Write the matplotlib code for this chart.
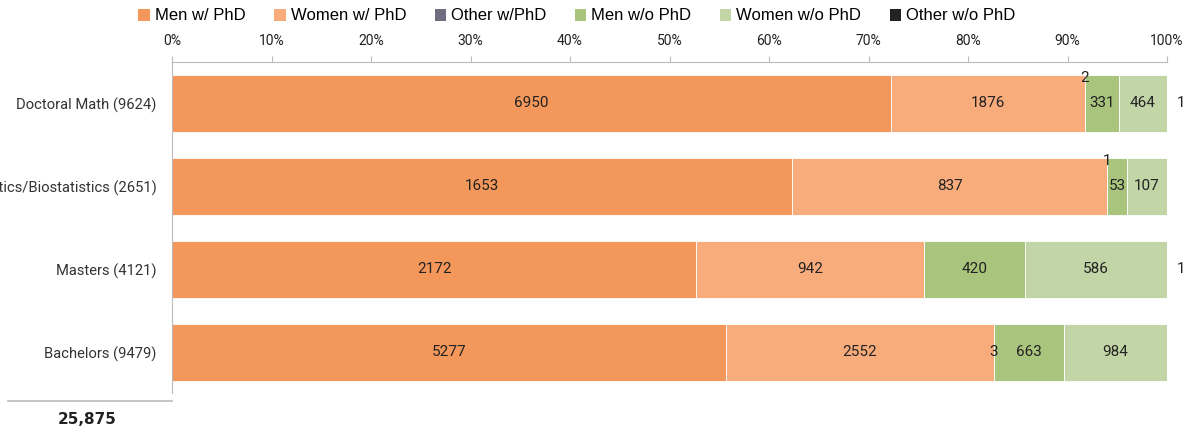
import numpy as np
import matplotlib.pyplot as plt
from matplotlib.patches import Patch

categories = ["Doctoral Math (9624)", "Statistics/Biostatistics (2651)", "Masters (4121)", "Bachelors (9479)"]
series = ["Men w/ PhD", "Women w/ PhD", "Other w/PhD", "Men w/o PhD", "Women w/o PhD", "Other w/o PhD"]
men_phd = [6950, 1653, 2172, 5277]
women_phd = [1876, 837, 942, 2552]
other_phd = [2, 1, 0, 3]
men_nophd = [331, 53, 420, 663]
women_nophd = [464, 107, 586, 984]
other_nophd = [1, 0, 1, 0]
total_label = "25,875"

colors = ["#F4975A", "#F8AC7C", "#6E6E80", "#A9C47C", "#C1D5A6", "#222222"]

plt.rcParams['font.family'] = ["Roboto", "DejaVu Sans"]

data = np.array([men_phd, women_phd, other_phd, men_nophd, women_nophd, other_nophd], dtype=float)
totals = data.sum(axis=0)
pct = data / totals * 100

fig = plt.figure(figsize=(11.89, 4.33), dpi=100)
ax = fig.add_axes([0.1447, 0.0924, 0.9815 - 0.1447, 0.8568 - 0.0924])

y = np.arange(len(categories))
left = np.zeros(len(categories))
for i, name in enumerate(series):
    ax.barh(y, pct[i], left=left, height=0.687, color=colors[i],
            edgecolor="white", linewidth=0.6, label=name)
    for j in range(len(categories)):
        v = data[i, j]
        if v <= 0:
            continue
        cx = left[j] + pct[i, j] / 2
        if i == 5:
            # tiny "other w/o" values sit just right of the bar
            ax.annotate(str(int(v)), (100, y[j]), xytext=(10, 0), textcoords="offset points",
                        ha="center", va="center", fontsize=11, color="#222222",
                        annotation_clip=False)
        elif i == 2 and j < 2:
            ax.annotate(str(int(v)), (cx, y[j]), xytext=(0, 18), textcoords="offset points",
                        ha="center", va="center", fontsize=11, color="#222222")
        else:
            ax.text(cx, y[j], str(int(v)), ha="center", va="center", fontsize=11, color="#222222")
    left += pct[i]

ax.set_xlim(0, 100)
ax.set_ylim(3.49, -0.5)
ax.set_yticks(y)
ax.set_yticklabels(categories, fontsize=10.6, color="#333333")
ax.tick_params(axis="y", length=0, pad=11)
ax.xaxis.tick_top()
ax.set_xticks(np.arange(0, 101, 10))
ax.set_xticklabels([f"{t}%" for t in range(0, 101, 10)], fontsize=10, color="#222222")
ax.tick_params(axis="x", length=4, color="#BBBBBB", pad=6)
ax.spines["bottom"].set_visible(False)
ax.spines["left"].set_color("#BBBBBB")
ax.spines["top"].set_color("#BBBBBB")
ax.spines["right"].set_color("#BBBBBB")
ax.spines["right"].set_bounds(-0.5, -0.5)

# total under the labels
fig.add_artist(plt.Line2D([8 / 1189, 172 / 1189], [1 - 401 / 433, 1 - 401 / 433], color="#BBBBBB", lw=1.2))
fig.text(87 / 1189, 1 - 420 / 433, total_label, ha="center", va="center", fontsize=11,
         fontweight="bold", family=["DejaVu Sans"], color="#222222")

handles = [Patch(facecolor=c, edgecolor="none") for c in colors]
fig.legend(handles, series, loc="center", bbox_to_anchor=(577 / 1189, 1 - 16 / 433), ncol=6,
           frameon=False, handlelength=0.7, handleheight=0.7, handletextpad=0.3,
           columnspacing=1.7, prop={"family": ["Liberation Sans", "DejaVu Sans"], "size": 12})

fig.savefig("out.png", dpi=100)
